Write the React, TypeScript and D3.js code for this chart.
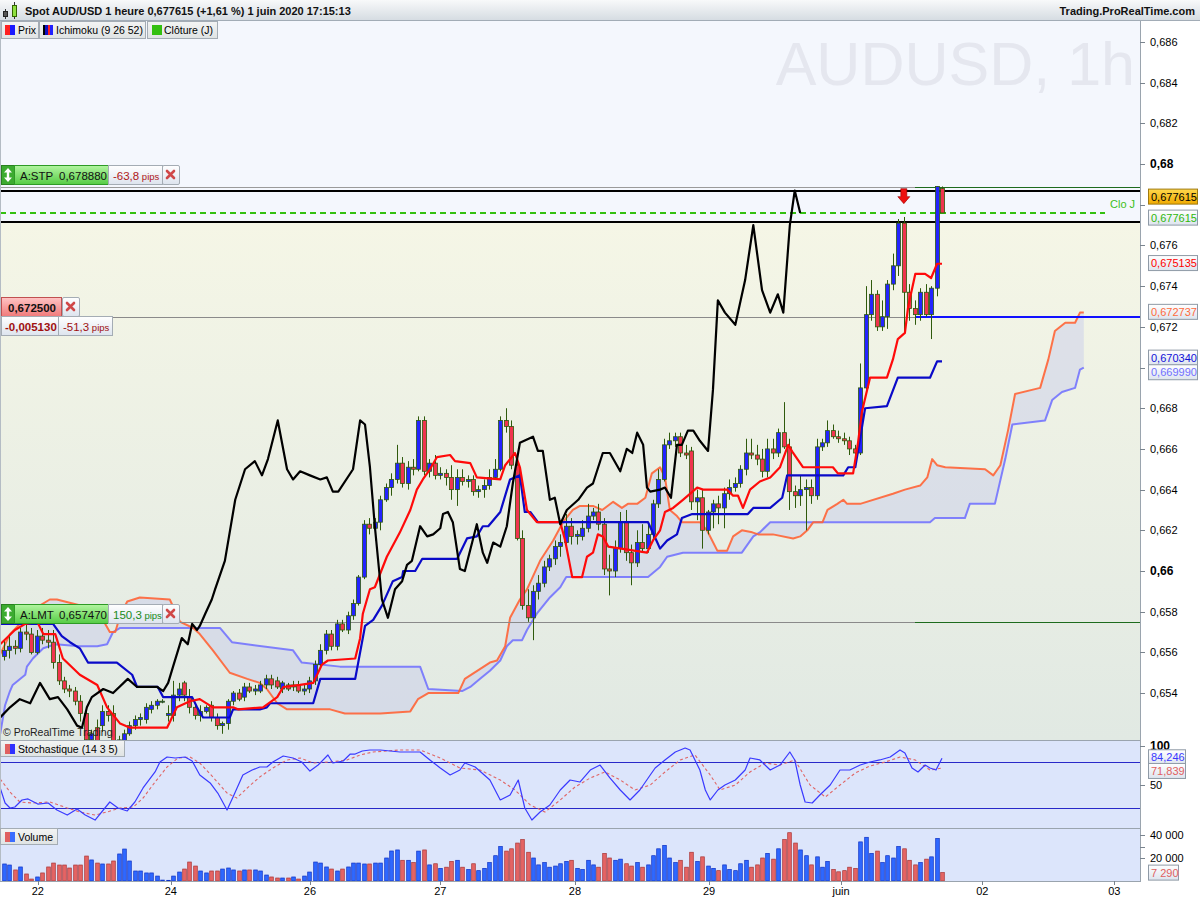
import React from 'react';
import * as d3 from 'd3';

const FONT = 'Arial, "Liberation Sans", sans-serif';

// hourly candles AUD/USD [open, high, low, close]
const candles: number[][] = [
  [0.6558, 0.6566, 0.6556, 0.6561], [0.6561, 0.6568, 0.6557, 0.6563], [0.6563, 0.6566, 0.6559, 0.6562], [0.6562, 0.6572, 0.6560, 0.6570],
  [0.6570, 0.6574, 0.6566, 0.6569], [0.6569, 0.6572, 0.6559, 0.6560], [0.6560, 0.6571, 0.6559, 0.6568], [0.6568, 0.6572, 0.6564, 0.6566],
  [0.6566, 0.6571, 0.6562, 0.6565], [0.6565, 0.6571, 0.6552, 0.6555], [0.6555, 0.6559, 0.6544, 0.6546], [0.6546, 0.6548, 0.6540, 0.6542],
  [0.6542, 0.6544, 0.6538, 0.6541], [0.6541, 0.6543, 0.6534, 0.6536], [0.6536, 0.6539, 0.6526, 0.6530], [0.6530, 0.6531, 0.6516, 0.6517],
  [0.6517, 0.6522, 0.6515, 0.6520], [0.6523, 0.6527, 0.6515, 0.6516], [0.6524, 0.6534, 0.6521, 0.6531], [0.6531, 0.6534, 0.6526, 0.6529],
  [0.6530, 0.6534, 0.6515, 0.6516], [0.6516, 0.6519, 0.6515, 0.6517], [0.6516, 0.6522, 0.6515, 0.6520], [0.6520, 0.6526, 0.6519, 0.6524],
  [0.6524, 0.6529, 0.6522, 0.6527], [0.6527, 0.6530, 0.6524, 0.6528], [0.6527, 0.6535, 0.6525, 0.6533], [0.6532, 0.6536, 0.6530, 0.6534],
  [0.6534, 0.6537, 0.6532, 0.6536], [0.6536, 0.6537, 0.6535, 0.6536], [0.6529, 0.6534, 0.6526, 0.6530], [0.6529, 0.6546, 0.6526, 0.6539],
  [0.6539, 0.6545, 0.6536, 0.6542], [0.6545, 0.6546, 0.6536, 0.6539], [0.6538, 0.6542, 0.6530, 0.6533], [0.6533, 0.6535, 0.6527, 0.6529],
  [0.6529, 0.6534, 0.6526, 0.6531], [0.6531, 0.6534, 0.6530, 0.6533], [0.6534, 0.6536, 0.6526, 0.6528], [0.6528, 0.6530, 0.6522, 0.6524],
  [0.6524, 0.6526, 0.6520, 0.6525], [0.6525, 0.6537, 0.6522, 0.6536], [0.6536, 0.6541, 0.6534, 0.6540], [0.6540, 0.6542, 0.6536, 0.6537],
  [0.6538, 0.6545, 0.6536, 0.6543], [0.6543, 0.6545, 0.6540, 0.6541], [0.6541, 0.6544, 0.6539, 0.6542], [0.6541, 0.6546, 0.6540, 0.6544],
  [0.6544, 0.6549, 0.6542, 0.6547], [0.6547, 0.6549, 0.6542, 0.6544], [0.6546, 0.6548, 0.6542, 0.6543], [0.6542, 0.6546, 0.6540, 0.6545],
  [0.6544, 0.6545, 0.6541, 0.6542], [0.6543, 0.6546, 0.6541, 0.6544], [0.6544, 0.6546, 0.6540, 0.6541], [0.6541, 0.6544, 0.6539, 0.6542],
  [0.6542, 0.6548, 0.6540, 0.6546], [0.6546, 0.6556, 0.6544, 0.6554], [0.6554, 0.6564, 0.6552, 0.6561], [0.6561, 0.6571, 0.6559, 0.6569],
  [0.6569, 0.6571, 0.6561, 0.6563], [0.6563, 0.6576, 0.6561, 0.6574], [0.6574, 0.6576, 0.6570, 0.6571], [0.6571, 0.6580, 0.6569, 0.6578],
  [0.6578, 0.6586, 0.6576, 0.6584], [0.6584, 0.6598, 0.6583, 0.6597], [0.6597, 0.6625, 0.6596, 0.6623], [0.6623, 0.6626, 0.6618, 0.6621],
  [0.6621, 0.6626, 0.6615, 0.6624], [0.6624, 0.6637, 0.6620, 0.6635], [0.6635, 0.6643, 0.6634, 0.6641], [0.6641, 0.6648, 0.6637, 0.6645],
  [0.6645, 0.6662, 0.6643, 0.6653], [0.6653, 0.6656, 0.6641, 0.6643], [0.6643, 0.6654, 0.6640, 0.6651], [0.6651, 0.6655, 0.6647, 0.6650],
  [0.6650, 0.6676, 0.6649, 0.6674], [0.6674, 0.6676, 0.6647, 0.6649], [0.6649, 0.6655, 0.6646, 0.6653], [0.6653, 0.6657, 0.6645, 0.6647],
  [0.6647, 0.6651, 0.6645, 0.6648], [0.6648, 0.6650, 0.6642, 0.6646], [0.6646, 0.6652, 0.6635, 0.6640], [0.6640, 0.6650, 0.6632, 0.6646],
  [0.6646, 0.6650, 0.6642, 0.6644], [0.6644, 0.6647, 0.6641, 0.6645], [0.6645, 0.6647, 0.6637, 0.6639], [0.6639, 0.6642, 0.6636, 0.6640],
  [0.6640, 0.6645, 0.6636, 0.6642], [0.6642, 0.6650, 0.6640, 0.6646], [0.6646, 0.6655, 0.6645, 0.6650], [0.6650, 0.6676, 0.6649, 0.6674],
  [0.6674, 0.6680, 0.6668, 0.6671], [0.6671, 0.6674, 0.6650, 0.6652], [0.6652, 0.6655, 0.6615, 0.6616], [0.6616, 0.6620, 0.6581, 0.6583],
  [0.6583, 0.6591, 0.6575, 0.6577], [0.6577, 0.6593, 0.6566, 0.6590], [0.6590, 0.6598, 0.6586, 0.6594], [0.6594, 0.6605, 0.6592, 0.6602],
  [0.6602, 0.6608, 0.6600, 0.6606], [0.6606, 0.6615, 0.6603, 0.6612], [0.6612, 0.6618, 0.6607, 0.6614], [0.6614, 0.6628, 0.6611, 0.6622],
  [0.6622, 0.6626, 0.6613, 0.6617], [0.6617, 0.6620, 0.6613, 0.6618], [0.6617, 0.6625, 0.6615, 0.6621], [0.6621, 0.6633, 0.6619, 0.6627],
  [0.6627, 0.6631, 0.6625, 0.6629], [0.6629, 0.6633, 0.6620, 0.6623], [0.6623, 0.6626, 0.6598, 0.6601], [0.6601, 0.6608, 0.6588, 0.6600],
  [0.6600, 0.6615, 0.6597, 0.6611], [0.6611, 0.6629, 0.6609, 0.6624], [0.6624, 0.6630, 0.6605, 0.6609], [0.6609, 0.6613, 0.6593, 0.6604],
  [0.6604, 0.6620, 0.6602, 0.6614], [0.6614, 0.6623, 0.6609, 0.6611], [0.6611, 0.6623, 0.6609, 0.6618], [0.6618, 0.6635, 0.6615, 0.6633],
  [0.6633, 0.6650, 0.6631, 0.6645], [0.6645, 0.6665, 0.6644, 0.6662], [0.6662, 0.6668, 0.6660, 0.6664], [0.6664, 0.6668, 0.6661, 0.6666],
  [0.6666, 0.6668, 0.6656, 0.6658], [0.6658, 0.6662, 0.6655, 0.6657], [0.6659, 0.6661, 0.6630, 0.6634], [0.6634, 0.6640, 0.6625, 0.6636],
  [0.6636, 0.6640, 0.6611, 0.6620], [0.6620, 0.6630, 0.6618, 0.6629], [0.6629, 0.6635, 0.6621, 0.6633], [0.6633, 0.6637, 0.6623, 0.6631],
  [0.6631, 0.6641, 0.6621, 0.6638], [0.6638, 0.6645, 0.6635, 0.6641], [0.6641, 0.6646, 0.6639, 0.6643], [0.6643, 0.6652, 0.6641, 0.6650],
  [0.6650, 0.6665, 0.6647, 0.6658], [0.6658, 0.6665, 0.6655, 0.6657], [0.6657, 0.6662, 0.6652, 0.6655], [0.6655, 0.6660, 0.6646, 0.6649],
  [0.6649, 0.6665, 0.6646, 0.6660], [0.6660, 0.6665, 0.6655, 0.6658], [0.6658, 0.6670, 0.6656, 0.6668], [0.6668, 0.6683, 0.6660, 0.6661],
  [0.6661, 0.6665, 0.6630, 0.6639], [0.6639, 0.6642, 0.6631, 0.6637], [0.6637, 0.6647, 0.6632, 0.6640], [0.6640, 0.6645, 0.6620, 0.6641],
  [0.6641, 0.6645, 0.6633, 0.6637], [0.6637, 0.6665, 0.6635, 0.6661], [0.6661, 0.6665, 0.6659, 0.6663], [0.6663, 0.6674, 0.6661, 0.6669],
  [0.6669, 0.6672, 0.6665, 0.6666], [0.6666, 0.6669, 0.6663, 0.6665], [0.6665, 0.6668, 0.6662, 0.6664], [0.6664, 0.6666, 0.6657, 0.6660],
  [0.6660, 0.6662, 0.6657, 0.6658], [0.6658, 0.6702, 0.6657, 0.6690], [0.6690, 0.6740, 0.6689, 0.6726], [0.6726, 0.6743, 0.6723, 0.6736],
  [0.6736, 0.6738, 0.6718, 0.6720], [0.6720, 0.6733, 0.6718, 0.6725], [0.6725, 0.6743, 0.6719, 0.6741], [0.6741, 0.6756, 0.6738, 0.6750],
  [0.6750, 0.6773, 0.6745, 0.6771], [0.6771, 0.6774, 0.6718, 0.6737], [0.6737, 0.6741, 0.6723, 0.6729], [0.6729, 0.6733, 0.6721, 0.6726],
  [0.6726, 0.6739, 0.6723, 0.6737], [0.6737, 0.6741, 0.6725, 0.6726], [0.6726, 0.6740, 0.6714, 0.6739], [0.6739, 0.6789, 0.6735, 0.6789],
  [0.6788, 0.6789, 0.6776, 0.6776],
];

const volumes = [
  14800, 13900, 9600, 12200, 6100, 1700, 3500, 7000, 12200, 15600,
  13900, 13900, 11300, 13900, 13900, 21700, 18300, 15600, 14800, 14800,
  17400, 23500, 27800, 17400, 8700, 8700, 7000, 7000, 4300, 800,
  600, 4300, 7800, 10400, 16500, 13000, 8700, 7000, 8700, 8700,
  10400, 11300, 9600, 8700, 9600, 9600, 9600, 8700, 5200, 3500,
  2600, 2600, 2600, 3500, 1700, 4300, 7800, 16500, 15600, 12200,
  10400, 8700, 10400, 12200, 15600, 15600, 14800, 14800, 15600, 15600,
  20000, 26100, 27000, 18000, 18000, 16000, 26000, 27000, 14000, 15000,
  11000, 12000, 17000, 18000, 12000, 10000, 15000, 9000, 11000, 16000,
  22000, 30000, 26000, 28000, 33000, 36000, 25000, 20000, 14000, 16000,
  12000, 13000, 15000, 17000, 18000, 11000, 10000, 18000, 14000, 12000,
  24000, 20000, 18000, 19000, 15000, 13000, 16000, 12000, 14000, 22000,
  28000, 31000, 20000, 16000, 18000, 12000, 25000, 17000, 21000, 13000,
  11000, 9000, 14000, 10000, 9000, 15000, 18000, 12000, 14000, 20000,
  24000, 19000, 28000, 36000, 42000, 33000, 27000, 22000, 14000, 21000,
  12000, 17000, 10000, 8000, 9000, 12000, 11000, 34000, 38000, 24000,
  26000, 16000, 22000, 20000, 30000, 28000, 18000, 14000, 16000, 19000,
  21000, 37000, 7290,
];

// Ichimoku lines, read as [bar, price] vertices
const tenkan = [
  [-0.7, 0.6564], [2, 0.6571], [3.9, 0.6574], [6.1, 0.6575], [7.2, 0.6569], [9.4, 0.6569], [10.8, 0.6557], [13.9, 0.6549],
  [17.1, 0.6544], [18.9, 0.6533], [21.3, 0.6525], [23.1, 0.6523], [29.9, 0.6523], [31.7, 0.6533], [34.1, 0.6536], [35.9, 0.6537],
  [38.3, 0.6533], [42, 0.6533], [42.9, 0.6532], [47.5, 0.6533], [50.1, 0.6538], [51.2, 0.6543], [54.3, 0.6544], [56.7, 0.6545],
  [58.3, 0.6554], [59.4, 0.6556], [64.4, 0.6557], [65.3, 0.6567], [65.8, 0.6579], [67.1, 0.6591], [68, 0.6592], [70.2, 0.6607],
  [72.6, 0.6619], [74.5, 0.663], [75.7, 0.664], [76.8, 0.6645], [78.1, 0.665], [79.4, 0.6656], [81.8, 0.6657], [82.7, 0.6654],
  [85.5, 0.6653], [86.7, 0.6646], [91, 0.6645], [91.9, 0.6652], [93.7, 0.6658], [94.6, 0.6651], [95.9, 0.663], [97.7, 0.6624],
  [102, 0.6624], [102.9, 0.6615], [104.2, 0.6597], [106, 0.6597], [106.9, 0.6607], [108, 0.6609], [108.9, 0.6618], [109.8, 0.6617],
  [110.8, 0.6612], [117.9, 0.6609], [119, 0.6615], [120.3, 0.662], [121.2, 0.6629], [122.7, 0.6631], [124.5, 0.6635], [127.1, 0.6641],
  [128.2, 0.664], [132.6, 0.664], [133.7, 0.6637], [134.6, 0.6637], [135.5, 0.6631], [136.8, 0.664], [138.6, 0.6644], [140.5, 0.6646],
  [142.3, 0.6651], [143.8, 0.6662], [144.7, 0.6658], [146.5, 0.6651], [152, 0.6651], [152.9, 0.6648], [155.7, 0.6648], [156.6, 0.6663],
  [157.3, 0.6678], [158.8, 0.6695], [161.9, 0.6695], [163, 0.6704], [163.9, 0.6714], [165.2, 0.6717], [165.8, 0.673], [167.1, 0.6746],
  [168.9, 0.6746], [170, 0.6744], [171.1, 0.6751], [172, 0.6751],
];

const kijun = [
  [-0.7, 0.6574], [9, 0.6574], [10.6, 0.6568], [12.1, 0.6565], [13.9, 0.6562], [15.4, 0.6555], [20.7, 0.6555], [23.5, 0.6549],
  [24.4, 0.6543], [28.2, 0.6543], [29.2, 0.6538], [34.5, 0.6538], [35.4, 0.6533], [36.5, 0.6528], [41.4, 0.6528], [42, 0.6532],
  [46.9, 0.6532], [48.2, 0.6533], [48.8, 0.6535], [56.7, 0.6535], [58, 0.6547], [64.4, 0.6547], [66.2, 0.6573], [67.7, 0.6576],
  [69.3, 0.6583], [71.3, 0.6595], [73, 0.6597], [73.2, 0.66], [75.4, 0.66], [76.7, 0.6606], [83.1, 0.6606], [84.9, 0.6616],
  [86.7, 0.6617], [87.8, 0.6622], [88.8, 0.6622], [91, 0.6629], [92.8, 0.6645], [94.6, 0.6647], [95.5, 0.6629], [96.5, 0.6629],
  [97.9, 0.6624], [118.1, 0.6624], [119.8, 0.6614], [120.3, 0.6611], [121.6, 0.6615], [123.4, 0.6618], [124.3, 0.6626], [126.2, 0.6628],
  [136.4, 0.6628], [137.4, 0.6631], [140.5, 0.6631], [142.7, 0.6636], [143.6, 0.6647], [153.9, 0.6647], [154.8, 0.6651], [156.1, 0.6651],
  [157.9, 0.668], [161.9, 0.6681], [163.9, 0.6695], [169.8, 0.6695], [171.1, 0.6703], [172, 0.6703],
];

const chikou = [
  [-0.7, 0.6528], [1.1, 0.6533], [2.9, 0.6537], [4.8, 0.6535], [6.6, 0.6545], [8.4, 0.6537], [9.9, 0.6538], [11.6, 0.6532],
  [13.4, 0.6524], [14.3, 0.6523], [15.2, 0.6533], [16.1, 0.6538], [18.2, 0.6542], [20, 0.654], [22.7, 0.6547], [24.4, 0.6543],
  [26.2, 0.6543], [28.1, 0.6543], [29.2, 0.6541], [30.1, 0.6545], [31, 0.6553], [32.6, 0.6567], [33.7, 0.6564], [34.5, 0.6574],
  [35.4, 0.6571], [35.9, 0.6573], [36.9, 0.6579], [38.1, 0.6586], [38.7, 0.6591], [40.5, 0.6605], [42.4, 0.6635], [44.2, 0.665],
  [46, 0.6654], [47.3, 0.6647], [48.4, 0.6655], [50.2, 0.6674], [51.9, 0.665], [53, 0.6645], [54.3, 0.6649], [56.1, 0.6647],
  [58, 0.6645], [59.2, 0.6646], [60.3, 0.6639], [61.3, 0.6639], [64, 0.665], [65.3, 0.6674], [66.2, 0.6672], [67.1, 0.6651],
  [68, 0.6622], [69.3, 0.6586], [70.4, 0.6577], [71.7, 0.6591], [73, 0.6595], [73.9, 0.6603], [74.8, 0.6605], [76.3, 0.6622],
  [77.6, 0.6617], [78.7, 0.6618], [80, 0.6621], [80.5, 0.6628], [81.4, 0.6629], [82.3, 0.6624], [83.6, 0.6601], [84.5, 0.66],
  [86.7, 0.6623], [87.8, 0.6609], [88.6, 0.6604], [89.7, 0.6614], [91, 0.6612], [92.2, 0.6622], [93.3, 0.6643], [94.6, 0.6663],
  [97, 0.6666], [97.9, 0.6659], [98.8, 0.6659], [100.1, 0.6635], [101, 0.6636], [102, 0.6623], [103.2, 0.663], [105.3, 0.6635],
  [106.9, 0.6641], [108, 0.6643], [109.8, 0.6658], [111.1, 0.6658], [113, 0.6649], [114.2, 0.666], [115.2, 0.6658], [116.1, 0.6668],
  [117.2, 0.6662], [117.9, 0.6641], [118.5, 0.6639], [120.3, 0.664], [121.2, 0.6641], [122.3, 0.6636], [123.4, 0.6662], [124.3, 0.6662],
  [125.4, 0.6669], [126.4, 0.6669], [127.6, 0.6664], [129.1, 0.6659], [130, 0.6689], [130.9, 0.6733], [132.2, 0.6727], [134.1, 0.6721],
  [135.9, 0.6743], [137.4, 0.677], [139, 0.6738], [140.5, 0.6727], [141.9, 0.6736], [142.9, 0.6727], [144.1, 0.677], [145, 0.6787],
  [146, 0.6776],
];

const senkouA = [
  [-0.7, 0.6559], [1.1, 0.6569], [2.9, 0.6574], [5.3, 0.6581], [8.4, 0.6586], [9.7, 0.6586], [17.1, 0.6581], [19.4, 0.657],
  [20.4, 0.657], [21.3, 0.6578], [22.6, 0.6585], [24.9, 0.6587], [30.4, 0.6586], [32.3, 0.6575], [34.7, 0.6572], [35.9, 0.6569],
  [38.3, 0.6561], [41.4, 0.655], [44.6, 0.6547], [46.9, 0.6545], [48.2, 0.6542], [50.1, 0.6535], [51.9, 0.6532], [59.8, 0.6532],
  [62.5, 0.653], [69, 0.653], [74.5, 0.6531], [75.9, 0.6537], [77.8, 0.654], [83.3, 0.654], [84.5, 0.6547], [89.1, 0.6555],
  [90.4, 0.6556], [91.9, 0.6563], [92.8, 0.6577], [94.6, 0.6586], [95.9, 0.6591], [98.3, 0.6605], [100.7, 0.6615], [102.5, 0.6624],
  [104.3, 0.663], [105.6, 0.6632], [108, 0.6632], [109.7, 0.663], [111.7, 0.6634], [113.3, 0.6631], [114.4, 0.6633], [116.1, 0.6633],
  [117.6, 0.6636], [118.8, 0.6648], [120.3, 0.6651], [121.2, 0.6646], [122.1, 0.663], [123.4, 0.6627], [124.3, 0.6624], [127.6, 0.6624],
  [128.9, 0.662], [130.8, 0.661], [132.6, 0.661], [133.7, 0.6617], [135.3, 0.662], [137.2, 0.6619], [138.3, 0.6618], [141, 0.6618],
  [144.7, 0.6616], [146, 0.6617], [147.3, 0.662], [148.4, 0.6624], [150.1, 0.6624], [151, 0.663], [152.8, 0.6633], [153.9, 0.6635],
  [154.6, 0.6633], [157, 0.6633], [163, 0.6638], [165.2, 0.664], [168, 0.6642], [169.3, 0.6646], [170.2, 0.6655], [171.1, 0.6652],
  [172.6, 0.6651], [179.9, 0.665], [181.4, 0.6647], [182.7, 0.6652], [184.1, 0.6669], [185.4, 0.6687], [190, 0.669], [191.5, 0.6704],
  [192.7, 0.6718], [194.6, 0.6722], [196.4, 0.6722], [197.3, 0.6727], [198, 0.6727],
];

const senkouB = [
  [-0.7, 0.652], [0.2, 0.6534], [1.1, 0.6541], [1.6, 0.6544], [3.9, 0.6549], [4.2, 0.6553], [5.3, 0.6557], [7.2, 0.6562],
  [9.4, 0.6564], [13.9, 0.6563], [17.1, 0.6563], [18.9, 0.6564], [20, 0.657], [21.3, 0.6572], [39.6, 0.6572], [41.8, 0.6565],
  [53, 0.6561], [54.6, 0.6555], [61.6, 0.6553], [76.3, 0.6553], [77.8, 0.6542], [84, 0.6541], [85.5, 0.6543], [87.3, 0.6547],
  [89.1, 0.6551], [91, 0.6556], [92.2, 0.6563], [93.3, 0.6566], [95, 0.6566], [95.9, 0.6571], [97.7, 0.6579], [100.1, 0.6587],
  [102, 0.6592], [103.1, 0.6597], [118.1, 0.6597], [120.3, 0.6602], [121.6, 0.6607], [124.5, 0.6609], [135.3, 0.6609], [137.4, 0.6617],
  [138.6, 0.6619], [140.5, 0.6624], [169.8, 0.6624], [170.7, 0.6626], [176.2, 0.6626], [177.1, 0.6633], [181.7, 0.6633], [183.6, 0.6655],
  [184.9, 0.6672], [190.9, 0.6674], [192.2, 0.6684], [194, 0.6688], [196.4, 0.669], [197.3, 0.6699], [198, 0.67],
];

// Stochastic (14 3 5), [bar, value]
const stochK = [
  [-0.7, 46.2], [0.2, 26.9], [1.1, 20.5], [2, 21.8], [3.3, 30.8], [4.4, 32.1], [6.2, 25.6], [8.1, 26.9], [9.7, 17.9], [11.6, 11.5],
  [13.4, 19.2], [14.9, 11.5], [16.7, 5.1], [19.4, 28.2], [20.9, 20.5], [22.6, 16.7], [24, 28.2], [25.5, 46.2], [27.7, 66.7], [28.6, 79.5],
  [29.9, 85.9], [31.4, 84.6], [33.2, 85.9], [34.5, 80.8], [35.9, 62.8], [37.8, 52.6], [39.2, 39.7], [40.9, 17.9], [42, 34.6], [43.8, 62.8],
  [45.5, 69.2], [46.9, 73.1], [48.2, 73.1], [49.3, 79.5], [51.2, 87.2], [53, 84.6], [54.6, 79.5], [56.1, 67.9], [57.6, 75.6], [59.4, 88.5],
  [60.3, 78.2], [62.2, 80.8], [63.5, 89.7], [64.4, 89.7], [65.7, 93.6], [67.1, 94.9], [69, 94.9], [72.6, 92.3], [76.3, 92.3], [78.1, 82.1],
  [80, 71.8], [81.8, 62.8], [83.6, 69.2], [84.5, 78.2], [86.4, 73.1], [89.1, 56.4], [91, 30.8], [92.8, 37.2], [94.3, 56.4], [95.5, 20.5],
  [96.8, 5.1], [98.3, 15.4], [100.1, 24.4], [102, 43.6], [103.8, 56.4], [105.6, 53.8], [107.5, 69.2], [109.3, 75.6], [111.1, 59], [113, 43.6],
  [114.8, 30.8], [116.6, 43.6], [118.5, 62.8], [119.4, 71.8], [121.2, 82.1], [123.1, 92.3], [124.9, 97.4], [125.8, 94.9], [127.6, 69.2], [128.6, 43.6],
  [129.5, 30.8], [130.9, 43.6], [132.2, 50], [134.1, 56.4], [135.9, 69.2], [136.8, 84.6], [138.6, 82.1], [140.5, 69.2], [142.3, 75.6], [144.1, 92.3],
  [145, 82.1], [146, 50], [146.9, 28.2], [148.2, 26.9], [149.6, 37.2], [151.5, 50], [153.3, 69.2], [155.1, 69.2], [157, 75.6], [158.8, 79.5],
  [160.6, 82.1], [162.5, 85.9], [164.3, 94.9], [165.2, 91], [166.5, 71.8], [167.6, 66.7], [168.9, 75.6], [169.8, 71.8], [170.9, 69.2], [172, 84.2],
];

const stochD = [
  [-0.7, 57.7], [1.1, 41], [2.9, 28.2], [5.3, 26.9], [8.4, 28.2], [11.6, 20.5], [13.9, 15.4], [16.7, 11.5], [18.9, 15.4], [21.3, 20.5],
  [23.7, 21.8], [25.5, 33.3], [27.7, 53.8], [29.9, 73.1], [31.9, 84.6], [34.1, 85.9], [35.9, 78.2], [38.3, 60.3], [40.9, 39.7], [42.7, 33.3],
  [44.6, 46.2], [46.9, 60.3], [49.3, 71.8], [51.9, 82.1], [54.3, 84.6], [56.7, 78.2], [59.8, 79.5], [62.9, 82.1], [65.3, 88.5], [67.7, 92.3],
  [72.6, 94.9], [76.3, 94.9], [80, 84.6], [83.6, 71.8], [87.3, 69.2], [91, 56.4], [93.7, 43.6], [96.5, 24.4], [99.2, 15.4], [102, 30.8],
  [104.7, 47.4], [107.5, 59], [110.2, 66.7], [113, 56.4], [115.7, 43.6], [118.5, 50], [121.2, 66.7], [124, 82.1], [126.7, 88.5], [129.5, 62.8],
  [131.3, 43.6], [134.1, 50], [136.8, 66.7], [139.6, 78.2], [142.3, 75.6], [145, 82.1], [147.8, 50], [150.6, 34.6], [153.3, 50], [156.1, 65.4],
  [158.8, 74.4], [161.6, 79.5], [164.3, 85.9], [167.1, 82.1], [169.8, 69.2], [172, 71.8],
];

const priceTicks = [0.654, 0.656, 0.658, 0.66, 0.662, 0.664, 0.666, 0.668, 0.67, 0.672, 0.674, 0.676, 0.678, 0.68, 0.682, 0.684, 0.686];
const hiddenPriceTicks = [0.67, 0.678];
const boldPriceTicks = [0.66, 0.68];
const dayLabels = ['22', '24', '26', '27', '28', '29', 'juin', '02', '03'];
const dayBars = [6.2, 30.6, 56.1, 80, 104.7, 129.3, 153.5, 179.4, 203.6];
const stochLevels = [20, 80];

// order / alert levels
const stopLevel = 0.67888;
const limitLevel = 0.65747;
const alertLevel = 0.6725;
const closeDay = 0.677615;
const bandTop = 0.67868;
const bandBottom = 0.67715;
const lastTenkan = 0.675135;
const lastSenkouA = 0.672737;
const lastKijun = 0.67034;
const lastSenkouB = 0.66999;
const lastK = 84.246;
const lastD = 71.839;
const lastVolume = 7290;

const PR = 1140;
const TOP = 21;
const MAIN_B = 740;
const STO_B = 828;
const VOL_B = 881;

const UP = '#2323ff';
const DOWN = '#f0344e';
const WICK = '#2f5a0c';

const comma = (s: string) => s.replace('.', ',');

function Tag({ x, y, w, text, color, fill = 'url(#tagGrad)', stroke = '#8f9aa6', weight = 'normal' }:
  { x: number; y: number; w: number; text: string; color: string; fill?: string; stroke?: string; weight?: string }) {
  return (
    <g>
      <rect x={x + 0.5} y={y - 7.5} width={w} height={15} fill={fill} stroke={stroke} />
      <text x={x + 3} y={y + 4} fontSize={11} fill={color} fontWeight={weight} fontFamily={FONT}>{text}</text>
    </g>
  );
}

function XBox({ x, y, h }: { x: number; y: number; h: number }) {
  const cx = x + 8.5;
  const cy = y + h / 2;
  return (
    <g>
      <rect x={x + 0.5} y={y + 0.5} width={17} height={h} fill="url(#tagGrad)" stroke="#a4acb4" rx={1.5} />
      <path d={`M${cx - 3.5},${cy - 3.5}L${cx + 3.5},${cy + 3.5}M${cx + 3.5},${cy - 3.5}L${cx - 3.5},${cy + 3.5}`}
        stroke="#d04848" strokeWidth={2.6} strokeLinecap="round" />
    </g>
  );
}

function OrderRow({ y, label, value, pips, pipsColor }: { y: number; label: string; value: string; pips: string; pipsColor: string }) {
  return (
    <g fontFamily={FONT}>
      <rect x={1.5} y={y + 0.5} width={13} height={19} fill="#3cab30" stroke="#28801f" />
      <path d={`M8,${y + 3}L4,${y + 7.5}H6.8V${y + 12.5}H4L8,${y + 17}L12,${y + 12.5}H9.2V${y + 7.5}H12Z`} fill="#fff" />
      <rect x={14.5} y={y + 0.5} width={94} height={19} fill="url(#greenGrad)" stroke="#2e9a26" />
      <text x={20} y={y + 14.5} fontSize={11.5} fill="#111">{label}</text>
      <text x={59} y={y + 14.5} fontSize={11.5} fill="#111">{value}</text>
      <rect x={108.5} y={y + 0.5} width={pips.length > 5 ? 57 : 54} height={19} fill="url(#tagGrad)" stroke="#a4acb4" />
      <text x={113} y={y + 14.5} fontSize={11.5} fill={pipsColor}>{pips}<tspan fontSize={9.5}> pips</tspan></text>
      <XBox x={pips.length > 5 ? 166 : 162} y={y} h={19} />
    </g>
  );
}

export default function App() {
  const x = d3.scaleLinear().domain([0, 172]).range([4, 942]);
  const y = d3.scaleLinear().domain([0.66, 0.686]).range([571, 42]);
  const ys = d3.scaleLinear().domain([0, 100]).range([824, 746]);
  const yv = d3.scaleLinear().domain([0, 40000]).range([VOL_B, 835]);

  const priceLine = d3.line<number[]>().x(d => x(d[0])).y(d => y(d[1]));
  const stochLine = d3.line<number[]>().x(d => x(d[0])).y(d => ys(d[1]));
  const cloud = priceLine([...senkouA, ...senkouB.slice().reverse()]) + 'Z';

  const hline = (v: number, x0: number, x1: number, color: string, w: number, dash?: string) => (
    <line x1={x0} x2={x1} y1={Math.round(y(v)) + (w % 2 ? 0.5 : 0)} y2={Math.round(y(v)) + (w % 2 ? 0.5 : 0)}
      stroke={color} strokeWidth={w} strokeDasharray={dash} />
  );

  const arrowX = x(165);
  const arrowY = y(0.6784);

  return (
    <svg width={1200} height={900} style={{ position: 'absolute', left: 0, top: 0, display: 'block' }} fontFamily={FONT}>
      <defs>
        <linearGradient id="titleGrad" x1="0" x2="0" y1="0" y2="1">
          <stop offset="0" stopColor="#f8f9fa" />
          <stop offset="1" stopColor="#d4dbe1" />
        </linearGradient>
        <linearGradient id="lowGrad" x1="0" x2="0" y1="0" y2="1">
          <stop offset="0" stopColor="#f5f6e6" />
          <stop offset="1" stopColor="#e1e9e3" />
        </linearGradient>
        <linearGradient id="tagGrad" x1="0" x2="0" y1="0" y2="1">
          <stop offset="0" stopColor="#ffffff" />
          <stop offset="1" stopColor="#dde4ee" />
        </linearGradient>
        <linearGradient id="legendGrad" x1="0" x2="0" y1="0" y2="1">
          <stop offset="0" stopColor="#f3f4f4" />
          <stop offset="1" stopColor="#dfe3e3" />
        </linearGradient>
        <linearGradient id="goldGrad" x1="0" x2="0" y1="0" y2="1">
          <stop offset="0" stopColor="#ffd84c" />
          <stop offset="1" stopColor="#f0aa00" />
        </linearGradient>
        <linearGradient id="greenGrad" x1="0" x2="0" y1="0" y2="1">
          <stop offset="0" stopColor="#b2f5a0" />
          <stop offset="1" stopColor="#55cc45" />
        </linearGradient>
        <linearGradient id="pinkGrad" x1="0" x2="0" y1="0" y2="1">
          <stop offset="0" stopColor="#ffc4c4" />
          <stop offset="1" stopColor="#f07a7a" />
        </linearGradient>
        <clipPath id="mainClip"><rect x={0} y={TOP} width={PR} height={MAIN_B - TOP} /></clipPath>
        <clipPath id="stoClip"><rect x={0} y={MAIN_B} width={PR} height={STO_B - MAIN_B} /></clipPath>
      </defs>

      <rect width={1200} height={900} fill="#fff" />

      {/* main panel background */}
      <rect x={0} y={TOP} width={PR} height={y(bandBottom) - TOP} fill="#f4f7fd" />
      <rect x={0} y={y(bandBottom)} width={PR} height={MAIN_B - y(bandBottom)} fill="url(#lowGrad)" />
      <text x={1135} y={85} textAnchor="end" fontSize={61} fill="#e5e7ef">AUDUSD, 1h</text>

      <g clipPath="url(#mainClip)">
        <path d={cloud} fill="#c6c9ec" fillOpacity={0.45} fillRule="nonzero" />
        <path d={priceLine(senkouB) ?? ''} fill="none" stroke="#6d6dff" strokeOpacity={0.85} strokeWidth={2} strokeLinejoin="round" />
        <path d={priceLine(senkouA) ?? ''} fill="none" stroke="#ff6436" strokeOpacity={0.9} strokeWidth={2} strokeLinejoin="round" />

        {/* order and alert lines */}
        {hline(stopLevel, 0, 915, '#9a9a9a', 1)}
        {hline(stopLevel, 915, PR, '#1d6b1d', 1)}
        {hline(bandTop, 0, PR, '#000', 2)}
        {hline(bandBottom, 0, PR, '#000', 2)}
        {hline(closeDay, 0, 1105, '#33c010', 2, '6,4')}
        {hline(alertLevel, 0, PR, '#8a8a8a', 1)}
        {hline(alertLevel, 915, PR, '#1010ff', 2)}
        {hline(limitLevel, 0, 915, '#8a8a8a', 1)}
        {hline(limitLevel, 915, PR, '#1d6b1d', 1)}

        {candles.map((c, i) => {
          const [o, h, l, cl] = c;
          const xc = Math.round(x(i)) + 0.5;
          const up = cl >= o;
          const top = y(Math.max(o, cl));
          const bh = Math.max(1, Math.abs(y(o) - y(cl)));
          return (
            <g key={i}>
              <line x1={xc} x2={xc} y1={y(h)} y2={y(l)} stroke={WICK} strokeWidth={1} />
              <rect x={xc - 2} y={top} width={4} height={bh} fill={up ? UP : DOWN} stroke={WICK} strokeWidth={0.8} />
            </g>
          );
        })}

        <path d={priceLine(kijun) ?? ''} fill="none" stroke="#0a0ac8" strokeWidth={2.2} strokeLinejoin="round" />
        <path d={priceLine(tenkan) ?? ''} fill="none" stroke="#ff0a0a" strokeWidth={2.2} strokeLinejoin="round" />
        <path d={priceLine(chikou) ?? ''} fill="none" stroke="#000" strokeWidth={2.2} strokeLinejoin="round" />

        <path d={`M${arrowX - 3},${arrowY - 8}H${arrowX + 3}V${arrowY}H${arrowX + 6}L${arrowX},${arrowY + 7}L${arrowX - 6},${arrowY}H${arrowX - 3}Z`}
          fill="#ee1010" stroke="#900" strokeWidth={0.6} />
      </g>

      <text x={1110} y={y(closeDay) - 5} fontSize={11} fill="#3cc020">Clo J</text>
      <text x={3} y={736} fontSize={10.5} fill="#222">© ProRealTime Trading</text>

      {/* stochastic panel */}
      <rect x={0} y={MAIN_B} width={PR} height={STO_B - MAIN_B} fill="#dce5fb" />
      {stochLevels.map(v => (
        <line key={v} x1={0} x2={PR} y1={Math.round(ys(v)) + 0.5} y2={Math.round(ys(v)) + 0.5} stroke="#2828c8" strokeWidth={1} />
      ))}
      <g clipPath="url(#stoClip)">
        <path d={stochLine(stochD) ?? ''} fill="none" stroke="#e06666" strokeWidth={1.1} strokeDasharray="3,2.5" />
        <path d={stochLine(stochK) ?? ''} fill="none" stroke="#3a3aff" strokeWidth={1.2} strokeLinejoin="round" />
      </g>

      {/* volume panel */}
      <rect x={0} y={STO_B} width={PR} height={VOL_B - STO_B} fill="#dce5fb" />
      {volumes.map((v, i) => {
        const up = candles[i][3] >= candles[i][0];
        const xc = Math.round(x(i)) + 0.5;
        return (
          <rect key={i} x={xc - 1.8} y={yv(v)} width={3.6} height={VOL_B - yv(v)}
            fill={up ? '#2f68ff' : '#e46464'} stroke={up ? '#0b2fc4' : '#a83232'} strokeWidth={0.7} />
        );
      })}

      {/* panel borders */}
      <line x1={0} x2={PR} y1={MAIN_B + 0.5} y2={MAIN_B + 0.5} stroke="#9aa4ae" />
      <line x1={0} x2={PR} y1={STO_B + 0.5} y2={STO_B + 0.5} stroke="#9aa4ae" />
      <line x1={0} x2={PR} y1={VOL_B + 0.5} y2={VOL_B + 0.5} stroke="#9aa4ae" />
      <line x1={PR + 0.5} x2={PR + 0.5} y1={TOP} y2={VOL_B + 1} stroke="#9aa4ae" />
      <line x1={0.5} x2={0.5} y1={TOP} y2={VOL_B} stroke="#b4bcc4" />

      {/* price axis */}
      {priceTicks.map(v => (
        <g key={v}>
          <line x1={PR} x2={PR + 5} y1={Math.round(y(v)) + 0.5} y2={Math.round(y(v)) + 0.5} stroke="#7a848e" />
          {!hiddenPriceTicks.includes(v) && (
            <text x={1150} y={y(v) + 4} fontSize={boldPriceTicks.includes(v) ? 12 : 11}
              fontWeight={boldPriceTicks.includes(v) ? 'bold' : 'normal'} fill="#000">
              {comma(boldPriceTicks.includes(v) ? String(v) : v.toFixed(3))}
            </text>
          )}
        </g>
      ))}

      {/* stochastic axis */}
      {[100, 50].map(v => (
        <g key={v}>
          <line x1={PR} x2={PR + 5} y1={Math.round(ys(v)) + 0.5} y2={Math.round(ys(v)) + 0.5} stroke="#7a848e" />
          <text x={1150} y={ys(v) + 4} fontSize={v === 100 ? 12 : 11} fontWeight={v === 100 ? 'bold' : 'normal'}>{v}</text>
        </g>
      ))}

      {/* volume axis */}
      {[40000, 30000, 20000].map(v => (
        <g key={v}>
          <line x1={PR} x2={PR + 5} y1={Math.round(yv(v)) + 0.5} y2={Math.round(yv(v)) + 0.5} stroke="#7a848e" />
          {v !== 30000 && <text x={1150} y={yv(v) + 4} fontSize={11}>{d3.format(',')(v).replace(',', ' ')}</text>}
        </g>
      ))}

      {/* last value tags */}
      <Tag x={1148} y={y(closeDay) - 16} w={49} text={comma(closeDay.toFixed(6))} color="#000" fill="url(#goldGrad)" stroke="#a07a10" />
      <Tag x={1148} y={y(closeDay) + 5} w={49} text={comma(closeDay.toFixed(6))} color="#2eb80c" />
      <Tag x={1148} y={y(lastTenkan)} w={49} text={comma(lastTenkan.toFixed(6))} color="#ff0000" />
      <Tag x={1148} y={y(lastSenkouA)} w={49} text={comma(lastSenkouA.toFixed(6))} color="#ff6a3c" />
      <Tag x={1148} y={y(lastKijun) - 3} w={49} text={comma(lastKijun.toFixed(6))} color="#1010d8" />
      <Tag x={1148} y={y(lastSenkouB) + 4.5} w={49} text={comma(lastSenkouB.toFixed(6))} color="#7070ff" />
      <Tag x={1148} y={ys(lastK) - 1} w={37} text={comma(lastK.toFixed(3))} color="#3a3aff" />
      <Tag x={1148} y={ys(lastD) + 3} w={37} text={comma(lastD.toFixed(3))} color="#e06060" />
      <Tag x={1148} y={yv(lastVolume)} w={30} text={d3.format(',')(lastVolume).replace(',', ' ')} color="#e06060" />

      {/* time axis */}
      {dayLabels.map((lab, k) => (
        <g key={lab}>
          <line x1={Math.round(x(dayBars[k])) + 0.5} x2={Math.round(x(dayBars[k])) + 0.5} y1={VOL_B} y2={VOL_B + 4} stroke="#7a848e" />
          <text x={x(dayBars[k])} y={895} textAnchor="middle" fontSize={11}>{lab}</text>
        </g>
      ))}

      {/* order boxes */}
      <OrderRow y={165} label="A:STP" value="0,678880" pips="-63,8" pipsColor="#b01818" />
      <OrderRow y={604} label="A:LMT" value="0,657470" pips="150,3" pipsColor="#208a20" />
      <g>
        <rect x={1.5} y={297.5} width={60} height={19} fill="url(#pinkGrad)" stroke="#c05050" />
        <text x={8} y={312} fontSize={11.5} fontWeight="bold" fill="#111">{comma(alertLevel.toFixed(6))}</text>
        <XBox x={62} y={297} h={19} />
        <rect x={1.5} y={316.5} width={57} height={19} fill="url(#tagGrad)" stroke="#a4acb4" />
        <text x={5} y={331} fontSize={11.5} fontWeight="bold" fill="#a01010">-0,005130</text>
        <rect x={58.5} y={316.5} width={54} height={19} fill="url(#tagGrad)" stroke="#a4acb4" />
        <text x={63} y={331} fontSize={11.5} fill="#a01010">-51,3<tspan fontSize={9.5}> pips</tspan></text>
      </g>

      {/* panel titles */}
      <g>
        <rect x={0.5} y={740.5} width={124} height={16} fill="url(#legendGrad)" stroke="#a4acb4" />
        <rect x={5} y={744} width={5} height={10} fill="#e06060" />
        <rect x={10} y={744} width={5} height={10} fill="#3030ff" />
        <text x={18} y={753} fontSize={10.5}>Stochastique (14 3 5)</text>
        <rect x={0.5} y={828.5} width={57} height={16} fill="url(#legendGrad)" stroke="#a4acb4" />
        <rect x={5} y={832} width={5} height={10} fill="#e06060" />
        <rect x={10} y={832} width={5} height={10} fill="#3a6cff" />
        <text x={18} y={841} fontSize={10.5}>Volume</text>
      </g>

      {/* title bar */}
      <rect x={0} y={0} width={1200} height={21} fill="url(#titleGrad)" />
      <line x1={0} x2={1200} y1={20.5} y2={20.5} stroke="#a2acb6" />
      <line x1={5.5} x2={5.5} y1={9} y2={19} stroke="#333" />
      <rect x={3.5} y={11.5} width={4} height={5} fill="#555" stroke="#222" />
      <line x1={14.5} x2={14.5} y1={2} y2={19} stroke="#333" />
      <rect x={12.5} y={5.5} width={4} height={11} fill="#8fe040" stroke="#336600" />
      <text x={25} y={15} fontSize={11} fontWeight="bold" fill="#111">Spot AUD/USD 1 heure 0,677615 (+1,61 %) 1 juin 2020 17:15:13</text>
      <text x={1195} y={15} fontSize={11} fontWeight="bold" fill="#111" textAnchor="end">Trading.ProRealTime.com</text>

      {/* legend */}
      <g>
        <rect x={1.5} y={21.5} width={37} height={17} fill="url(#legendGrad)" stroke="#a4acb4" />
        <rect x={5} y={25} width={5} height={10} fill="#ff2020" />
        <rect x={10} y={25} width={5} height={10} fill="#1818ff" />
        <text x={18} y={34} fontSize={10.5}>Prix</text>
        <rect x={39.5} y={21.5} width={106} height={17} fill="url(#legendGrad)" stroke="#a4acb4" />
        <rect x={43} y={25} width={2} height={10} fill="#000" />
        <rect x={45} y={25} width={3} height={10} fill="#1010c0" />
        <rect x={48} y={25} width={2} height={10} fill="#ff2020" />
        <rect x={50} y={25} width={3} height={10} fill="#2020ff" />
        <text x={56} y={34} fontSize={10.5}>Ichimoku (9 26 52)</text>
        <rect x={147.5} y={21.5} width={70} height={17} fill="url(#legendGrad)" stroke="#a4acb4" />
        <rect x={152} y={25} width={10} height={10} fill="#33c010" />
        <text x={164} y={34} fontSize={10.5}>Clôture (J)</text>
      </g>
    </svg>
  );
}
